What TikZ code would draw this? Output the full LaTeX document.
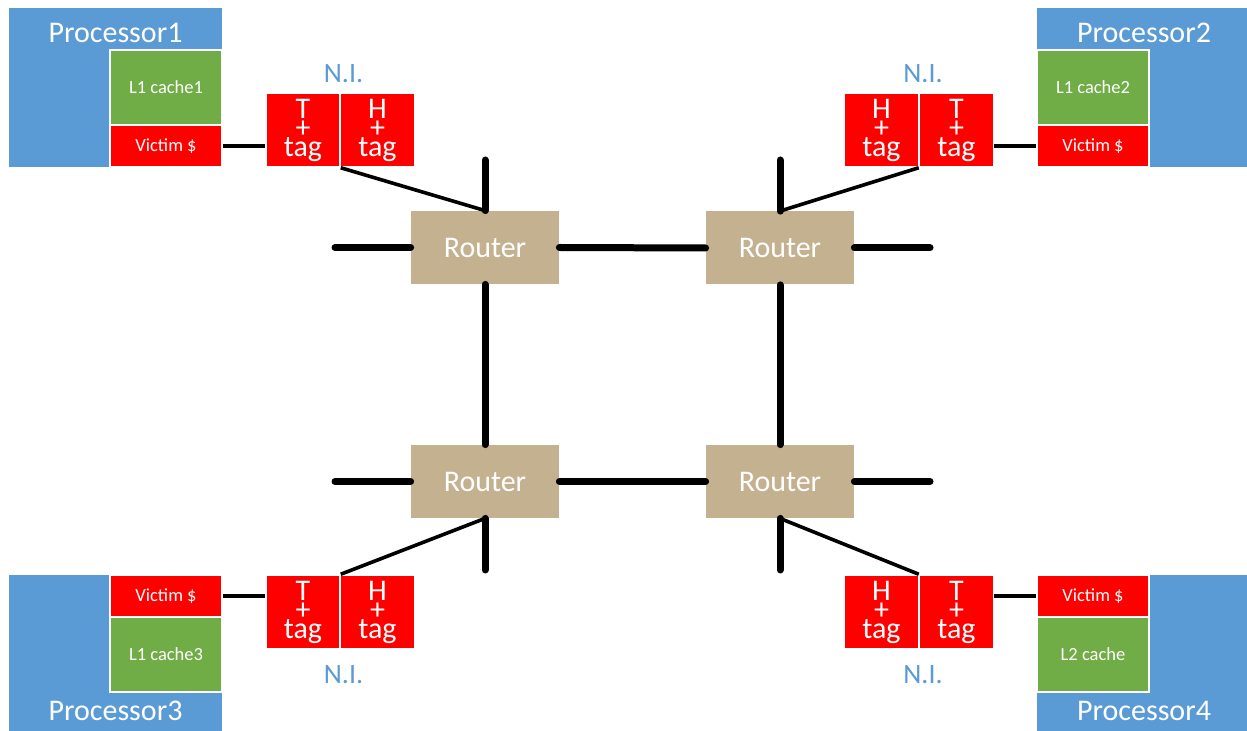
\documentclass[tikz,border=0pt]{standalone}
\usepackage{fontspec}
\setmainfont{Carlito}
\definecolor{procblue}{HTML}{5B9BD5}
\definecolor{cachegreen}{HTML}{70AD47}
\definecolor{nired}{HTML}{FF0000}
\definecolor{routertan}{RGB}{196,177,143}
\tikzset{
  procbox/.style={fill=procblue, draw=none, inner sep=0pt},
  proclabel/.style={text=white, font=\fontsize{15}{18}\selectfont, inner sep=0pt},
  cachecell/.style={draw=white, line width=0.75pt, inner sep=0pt, minimum width=56pt,
    text=white, font=\fontsize{9.25}{11}\selectfont},
  l1cell/.style={cachecell, fill=cachegreen, minimum height=37.5pt},
  victimcell/.style={cachecell, fill=nired, minimum height=21pt},
  nicell/.style={fill=nired, draw=white, line width=0.75pt, minimum width=37pt, minimum height=37pt,
    inner sep=0pt, text=white, align=center, font=\fontsize{15}{9.5}\selectfont},
  nilabel/.style={text=procblue, font=\fontsize{14}{16}\selectfont, inner sep=0pt, anchor=base},
  router/.style={fill=routertan, draw=none, minimum width=74pt, minimum height=36.5pt,
    inner sep=0pt, text=white, font=\fontsize{15}{18}\selectfont},
  link/.style={line width=3.5pt, line cap=round},
  tap/.style={line width=1.8pt},
  port/.style={line width=2pt},
}
\begin{document}
\begin{tikzpicture}[x=0.5pt, y=-0.5pt]
\useasboundingbox (0,0) rectangle (1247,731);

% processors
\node[procbox, minimum width=106.5pt, minimum height=79.5pt] (p1) at (115.5,87.5) {};
\node[procbox, minimum width=105pt, minimum height=79.5pt] (p2) at (1142,87.5) {};
\node[procbox, minimum width=106.5pt, minimum height=78pt] (p3) at (115.5,653) {};
\node[procbox, minimum width=105pt, minimum height=78pt] (p4) at (1142,653) {};
\node[proclabel, anchor=base] (p1t) at (115.5,43) {Processor1};
\node[proclabel, anchor=base] (p2t) at (1144,43) {Processor2};
\node[proclabel, anchor=base] (p3t) at (115.5,720) {Processor3};
\node[proclabel, anchor=base] (p4t) at (1144,720) {Processor4};

% caches
\node[l1cell] (c1) at (166,87.5) {L1 cache1};
\node[victimcell] (v1) at (166,146) {Victim \$};
\node[l1cell] (c2) at (1093,87.5) {L1 cache2};
\node[victimcell] (v2) at (1093,146) {Victim \$};
\node[victimcell] (v3) at (166,596) {Victim \$};
\node[l1cell] (c3) at (166,654.5) {L1 cache3};
\node[victimcell] (v4) at (1093,596) {Victim \$};
\node[l1cell] (c4) at (1093,654.5) {L2 cache};

% network interfaces
\node[nicell] (t1) at (303,130) {T\\+\\tag};
\node[nicell] (h1) at (377.5,130) {H\\+\\tag};
\node[nicell] (h2) at (881.5,130) {H\\+\\tag};
\node[nicell] (t2) at (956.5,130) {T\\+\\tag};
\node[nicell] (t3) at (303,612) {T\\+\\tag};
\node[nicell] (h3) at (377.5,612) {H\\+\\tag};
\node[nicell] (h4) at (881.5,612) {H\\+\\tag};
\node[nicell] (t4) at (956.5,612) {T\\+\\tag};
\node[nilabel] (n1) at (343.5,83) {N.I.};
\node[nilabel] (n2) at (923,83) {N.I.};
\node[nilabel] (n3) at (343.5,683) {N.I.};
\node[nilabel] (n4) at (923,683) {N.I.};

% routers
\node[router] (r1) at (485,247.5) {Router};
\node[router] (r2) at (780,248) {Router};
\node[router] (r3) at (485,481.5) {Router};
\node[router] (r4) at (780,481.5) {Router};

% free ends of the mesh links
\coordinate (r1n) at (485,160);
\coordinate (r1w) at (335,247.5);
\coordinate (r2n) at (780,160);
\coordinate (r2e) at (930,248);
\coordinate (r3w) at (335,481.5);
\coordinate (r3s) at (485,570);
\coordinate (r4e) at (930,481.5);
\coordinate (r4s) at (780,570);

% mesh links
\draw[link] (r1.east) -- (r2.west);
\draw[link] (r3.east) -- (r4.west);
\draw[link] (r1.south) -- (r3.north);
\draw[link] (r2.south) -- (r4.north);
\draw[link] (r1.north) -- (r1n);
\draw[link] (r1.west) -- (r1w);
\draw[link] (r2.north) -- (r2n);
\draw[link] (r2.east) -- (r2e);
\draw[link] (r3.west) -- (r3w);
\draw[link] (r3.south) -- (r3s);
\draw[link] (r4.east) -- (r4e);
\draw[link] (r4.south) -- (r4s);

% interface to router taps
\draw[tap] (t1.south east) -- (r1.north);
\draw[tap] (t2.south west) -- (r2.north);
\draw[tap] (t3.north east) -- (r3.south);
\draw[tap] (t4.north west) -- (r4.south);

% victim cache to interface ports
\draw[port] (v1.east) -- (v1.east -| t1.west);
\draw[port] (v2.west) -- (v2.west -| t2.east);
\draw[port] (v3.east) -- (v3.east -| t3.west);
\draw[port] (v4.west) -- (v4.west -| t4.east);
\end{tikzpicture}
\end{document}
